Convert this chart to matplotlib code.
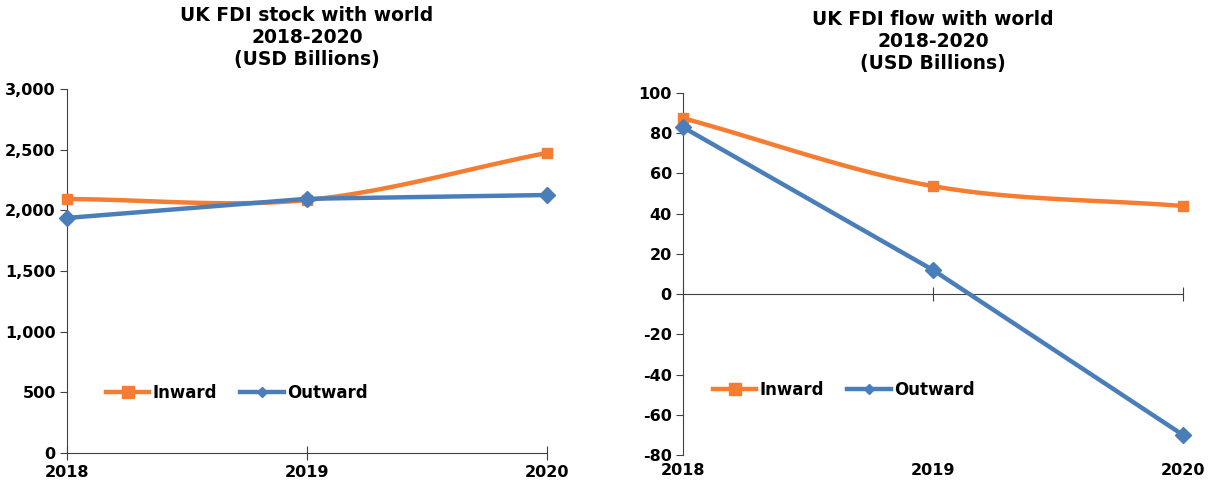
import matplotlib.pyplot as plt
import numpy as np

# UK foreign direct investment, USD billions
years = [2018, 2019, 2020]
stock_inward = [2093, 2085, 2473]
stock_outward = [1937, 2095, 2126]
flow_inward = [87.5, 53.7, 43.8]
flow_outward = [83, 12, -70]

orange = '#F47D32'
blue = '#4A7EBB'

plt.rcParams['font.family'] = 'DejaVu Sans'
plt.rcParams['font.weight'] = 'bold'
plt.rcParams['axes.unicode_minus'] = False


def smooth(x, y, n=40):
    # catmull-rom curve through the points, like a smoothed excel line
    x = np.asarray(x, float)
    y = np.asarray(y, float)
    px = np.concatenate([[2 * x[0] - x[1]], x, [2 * x[-1] - x[-2]]])
    py = np.concatenate([[2 * y[0] - y[1]], y, [2 * y[-1] - y[-2]]])
    xs, ys = [], []
    for i in range(1, len(px) - 2):
        t = np.linspace(0, 1, n)
        for p, out in ((px, xs), (py, ys)):
            p0, p1, p2, p3 = p[i - 1], p[i], p[i + 1], p[i + 2]
            out.extend(0.5 * ((2 * p1) + (-p0 + p2) * t
                              + (2 * p0 - 5 * p1 + 4 * p2 - p3) * t ** 2
                              + (-p0 + 3 * p1 - 3 * p2 + p3) * t ** 3))
    return xs, ys


def draw(ax, inward, outward):
    sx, sy = smooth(years, inward)
    ax.plot(sx, sy, color=orange, lw=3.2, solid_capstyle='round', zorder=3, clip_on=False)
    ax.plot(years, inward, 's', color=orange, ms=7, zorder=4, clip_on=False)
    ax.plot(years, outward, color=blue, lw=3.2, zorder=3, clip_on=False)
    ax.plot(years, outward, 'D', color=blue, ms=8, zorder=4, clip_on=False)
    # legend proxies
    ax.plot([], [], color=orange, lw=3.2, marker='s', ms=8, label='Inward')
    ax.plot([], [], color=blue, lw=3.2, marker='D', ms=5, label='Outward')
    for s in ['top', 'right']:
        ax.spines[s].set_visible(False)
    for s in ['left', 'bottom']:
        ax.spines[s].set_color('#404040')
    ax.set_xlim(2018, 2020)
    ax.set_xticks(years)
    ax.tick_params(axis='y', length=5, color='#404040', labelsize=11.5, pad=3)
    ax.tick_params(axis='x', direction='inout', length=10, color='#404040', labelsize=11.5)


def title(ax, text):
    ax.set_title(text, fontsize=13.5, fontweight='bold', pad=17, linespacing=1.2)


fig = plt.figure(figsize=(12.15, 4.88), dpi=100)

# stock
ax1 = fig.add_axes([0.0551, 0.0717, 0.395, 0.746])
draw(ax1, stock_inward, stock_outward)
ax1.set_ylim(0, 3000)
ax1.set_yticks(range(0, 3001, 500))
ax1.set_yticklabels([f'{v:,}' for v in range(0, 3001, 500)])
title(ax1, 'UK FDI stock with world\n2018-2020\n(USD Billions)')
ax1.legend(loc='center left', bbox_to_anchor=(0.05, 0.165), ncol=2, frameon=False,
           fontsize=12, handlelength=2.6, handletextpad=0.2, columnspacing=1.4)

# flow
ax2 = fig.add_axes([0.5621, 0.0676, 0.4115, 0.7418])
draw(ax2, flow_inward, flow_outward)
ax2.set_ylim(-80, 100)
ax2.set_yticks(range(-80, 101, 20))
ax2.spines['bottom'].set_position(('data', 0))
ax2.tick_params(axis='x', labelbottom=False)
sec = ax2.secondary_xaxis(0)
sec.set_xticks(years)
sec.tick_params(length=0, labelsize=11.5, pad=6)
sec.spines['bottom'].set_visible(False)
title(ax2, 'UK FDI flow with world\n2018-2020\n(USD Billions)')
ax2.legend(loc='center left', bbox_to_anchor=(0.03, 0.18), ncol=2, frameon=False,
           fontsize=12, handlelength=2.6, handletextpad=0.2, columnspacing=1.4)

fig.savefig('out.png', dpi=100)
